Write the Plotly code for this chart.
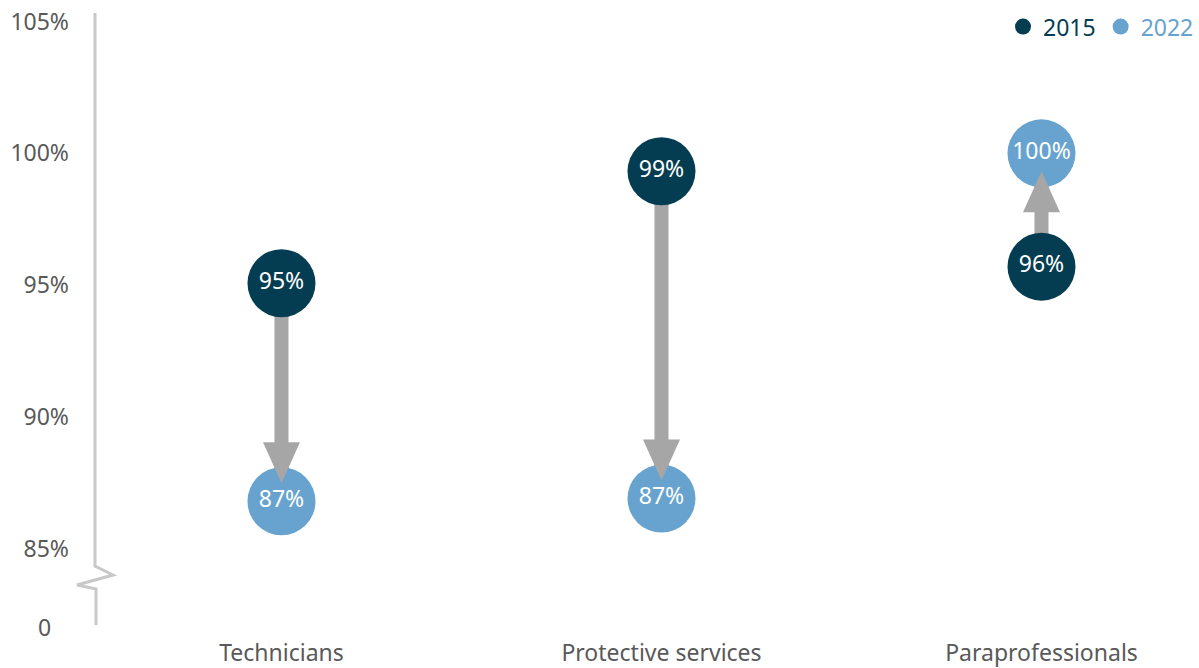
import plotly.graph_objects as go

# Share of workforce by occupation group, 2015 vs 2022
categories = ["Technicians", "Protective services", "Paraprofessionals"]
values_2015 = [95.07, 99.32, 95.7]
values_2022 = [86.8, 86.9, 100.0]

# Y-axis ticks (bottom tick sits below the axis break and reads "0")
tick_vals = [82, 85, 90, 95, 100, 105]
tick_text = ["0\u00a0\u00a0\u00a0", "85%", "90%", "95%", "100%", "105%"]

DARK = "#043d51"
LIGHT = "#68a3cf"
ARROW = "#a6a6a6"
AXIS = "#c8c8c8"
TEXT = "#595959"
FONT = "Noto Sans"

xs = list(range(len(categories)))

fig = go.Figure()

fig.add_trace(go.Scatter(
    x=xs, y=values_2015, mode="markers+text",
    name=f"<span style='color:{DARK}'>2015</span>",
    marker=dict(size=68, color=DARK),
    text=[f"{round(v)}%" for v in values_2015],
    textposition="middle center",
    textfont=dict(color="white", size=23, family=FONT),
    hoverinfo="skip",
))
fig.add_trace(go.Scatter(
    x=xs, y=values_2022, mode="markers+text",
    name=f"<span style='color:{LIGHT}'>2022</span>",
    marker=dict(size=68, color=LIGHT),
    text=[f"{round(v)}%" for v in values_2022],
    textposition="middle center",
    textfont=dict(color="white", size=23, family=FONT),
    hoverinfo="skip",
))

shapes = []
for i, (a, b) in enumerate(zip(values_2015, values_2022)):
    d = 1 if b < a else -1  # arrow points down when the share fell
    # shaft: 14 px wide, running between the two markers (drawn beneath them)
    shapes.append(dict(
        type="path", xref="x", yref="y", xsizemode="pixel", xanchor=i,
        path=f"M-7,{a} L7,{a} L7,{b} L-7,{b} Z",
        fillcolor=ARROW, line=dict(width=0), layer="below",
    ))
    # head: triangle ending just inside the 2022 marker
    tip, base = 18 * d, 59 * d
    shapes.append(dict(
        type="path", xref="x", yref="y",
        xsizemode="pixel", xanchor=i, ysizemode="pixel", yanchor=b,
        path=f"M-18.5,{base} L18.5,{base} L0,{tip} Z",
        fillcolor=ARROW, line=dict(width=0), layer="above",
    ))

# vertical axis line with a zigzag break above the zero tick
shapes.append(dict(
    type="path", xref="paper", yref="paper",
    xsizemode="pixel", xanchor=0, ysizemode="pixel", yanchor=0,
    path="M1,620 L1,67 L19,58 L-17,48 L2,44 L2,8",
    line=dict(color=AXIS, width=3), layer="above",
))

fig.update_layout(
    width=1199, height=668,
    margin=dict(l=94, r=0, t=15, b=33),
    paper_bgcolor="white", plot_bgcolor="white",
    font=dict(family=FONT, size=23, color=TEXT),
    showlegend=True,
    legend=dict(
        orientation="h", x=1, xanchor="right", y=1.016, yanchor="top",
        font=dict(size=23, family=FONT), bgcolor="rgba(0,0,0,0)",
        itemsizing="trace",
    ),
    shapes=shapes,
    xaxis=dict(
        range=[-0.4934, 2.4145], tickvals=xs, ticktext=categories,
        showgrid=False, zeroline=False, showline=False, ticks="",
        ticklabelstandoff=4,
        tickfont=dict(size=23, color=TEXT, family=FONT),
    ),
    yaxis=dict(
        range=[81.8, 105.25], tickvals=tick_vals, ticktext=tick_text,
        showgrid=False, zeroline=False, showline=False, ticks="",
        ticklabelstandoff=24,
        tickfont=dict(size=23, color=TEXT, family=FONT),
    ),
)

fig.write_html("out.html")
